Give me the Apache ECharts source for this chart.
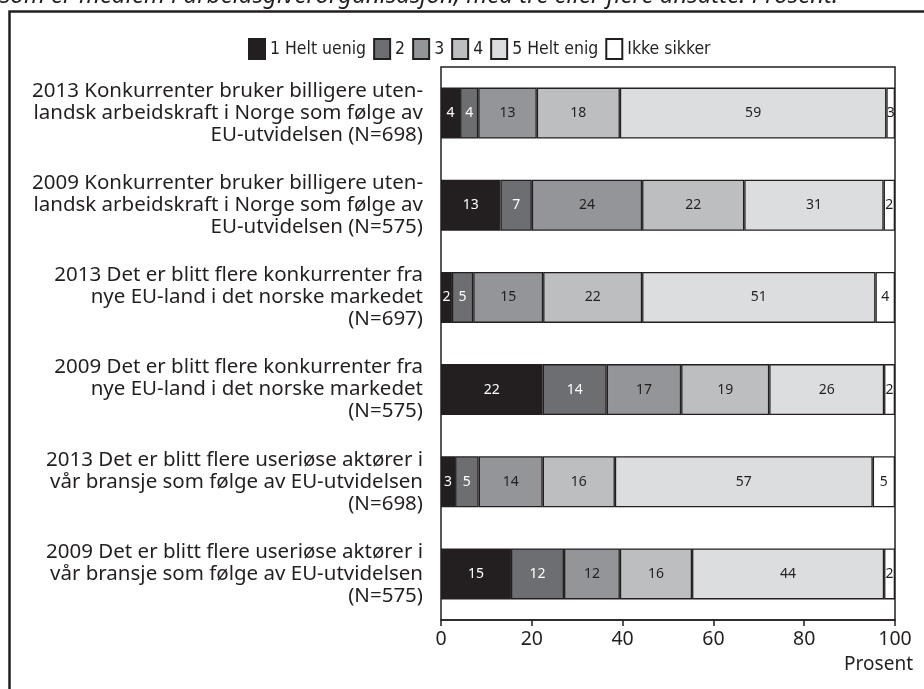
<!DOCTYPE html>
<html>
<head>
<meta charset="utf-8">
<script src="https://cdn.jsdelivr.net/npm/echarts@6/dist/echarts.min.js"></script>
<style>html,body{margin:0;padding:0;background:#fff}#c{width:924px;height:689px}</style>
</head>
<body>
<div id="c"></div>
<script>
// Categories, top to bottom
const categories = [
  "2013 Konkurrenter bruker billigere uten-\nlandsk arbeidskraft i Norge som følge av\nEU-utvidelsen (N=698)",
  "2009 Konkurrenter bruker billigere uten-\nlandsk arbeidskraft i Norge som følge av\nEU-utvidelsen (N=575)",
  "2013 Det er blitt flere konkurrenter fra\nnye EU-land i det norske markedet\n(N=697)",
  "2009 Det er blitt flere konkurrenter fra\nnye EU-land i det norske markedet\n(N=575)",
  "2013 Det er blitt flere useriøse aktører i\nvår bransje som følge av EU-utvidelsen\n(N=698)",
  "2009 Det er blitt flere useriøse aktører i\nvår bransje som følge av EU-utvidelsen\n(N=575)"
];
const seriesNames = ["1 Helt uenig", "2", "3", "4", "5 Helt enig", "Ikke sikker"];
// Segment widths (percent)
const helt_uenig = [4.2, 13.1, 2.4, 22.4, 3.1, 15.4];
const s2         = [4.0, 6.9, 4.7, 14.1, 5.2, 11.7];
const s3         = [12.9, 24.3, 15.4, 16.4, 14.1, 12.3];
const s4         = [18.3, 22.5, 21.8, 19.4, 15.9, 15.9];
const helt_enig  = [58.7, 30.7, 51.4, 25.3, 56.8, 42.3];
const ikke_sikker= [1.9, 2.5, 4.3, 2.4, 4.9, 2.4];
// Printed labels
const lab1 = [4, 13, 2, 22, 3, 15];
const lab2 = [4, 7, 5, 14, 5, 12];
const lab3 = [13, 24, 15, 17, 14, 12];
const lab4 = [18, 22, 22, 19, 16, 16];
const lab5 = [59, 31, 51, 26, 57, 44];
const lab6 = [3, 2, 4, 2, 5, 2];
const xTicks = [0, 20, 40, 60, 80, 100];

const values = [helt_uenig, s2, s3, s4, helt_enig, ikke_sikker];
const labels = [lab1, lab2, lab3, lab4, lab5, lab6];
const colors = ["#231f20", "#6d6e71", "#939598", "#bcbec0", "#dcdddf", "#ffffff"];
const labelColors = ["#ffffff", "#ffffff", "#231f20", "#231f20", "#231f20", "#231f20"];

const chart = echarts.init(document.getElementById('c'), null, {renderer: 'canvas'});
const series = seriesNames.map((name, i) => ({
  name: name,
  type: 'bar',
  stack: 'total',
  barWidth: 51,
  data: values[i],
  itemStyle: {color: colors[i], borderColor: '#231f20', borderWidth: 1.3},
  label: {
    show: true,
    position: 'inside',
    color: labelColors[i],
    fontFamily: 'Noto Sans',
    fontSize: 14,
    formatter: p => String(labels[i][p.dataIndex])
  },
  emphasis: {disabled: true}
}));

chart.setOption({
  animation: false,
  backgroundColor: '#fff',
  textStyle: {fontFamily: 'Noto Sans', color: '#231f20'},
  legend: {
    left: 243, top: 33, icon: 'rect',
    itemWidth: 16, itemHeight: 20, itemGap: 7,
    textStyle: {fontFamily: '"DejaVu Sans Condensed", "Noto Sans"', fontSize: 17.5, color: '#231f20', padding: [0, 0, 0, 0]},
    data: seriesNames
  },
  grid: {
    left: 441, top: 67, width: 454, height: 553,
    show: true, borderColor: '#231f20', borderWidth: 1.5, backgroundColor: 'transparent'
  },
  xAxis: {
    type: 'value', min: 0, max: 100, interval: 20,
    axisLine: {show: true, lineStyle: {color: '#231f20', width: 1.5}},
    axisTick: {show: true, length: 6, lineStyle: {color: '#231f20', width: 1.5}},
    splitLine: {show: false},
    axisLabel: {fontFamily: 'Noto Sans', fontSize: 19.5, color: '#231f20', margin: 9,
      formatter: v => xTicks.includes(v) ? String(v) : ''}
  },
  yAxis: {
    type: 'category', inverse: true, data: categories,
    axisLine: {show: false}, axisTick: {show: false},
    axisLabel: {fontFamily: 'Noto Sans', fontSize: 20.5, lineHeight: 22, color: '#231f20', align: 'right', margin: 18}
  },
  graphic: [
    {type: 'rect', shape: {x: 9.5, y: 11.5, width: 940, height: 720}, style: {fill: 'none', stroke: '#231f20', lineWidth: 2.5}, silent: true},
    {type: 'text', x: 0, y: -16, style: {text: 'som er medlem i arbeidsgiverorganisasjon, med tre eller flere ansatte. Prosent.', font: 'italic 24px "Noto Sans"', fill: '#231f20', verticalAlign: 'top'}, silent: true},
    {type: 'text', x: 913, y: 655, style: {text: 'Prosent', font: '19px "Noto Sans"', fill: '#231f20', align: 'right', verticalAlign: 'top'}, silent: true}
  ],
  series: series
});
</script>
</body>
</html>
